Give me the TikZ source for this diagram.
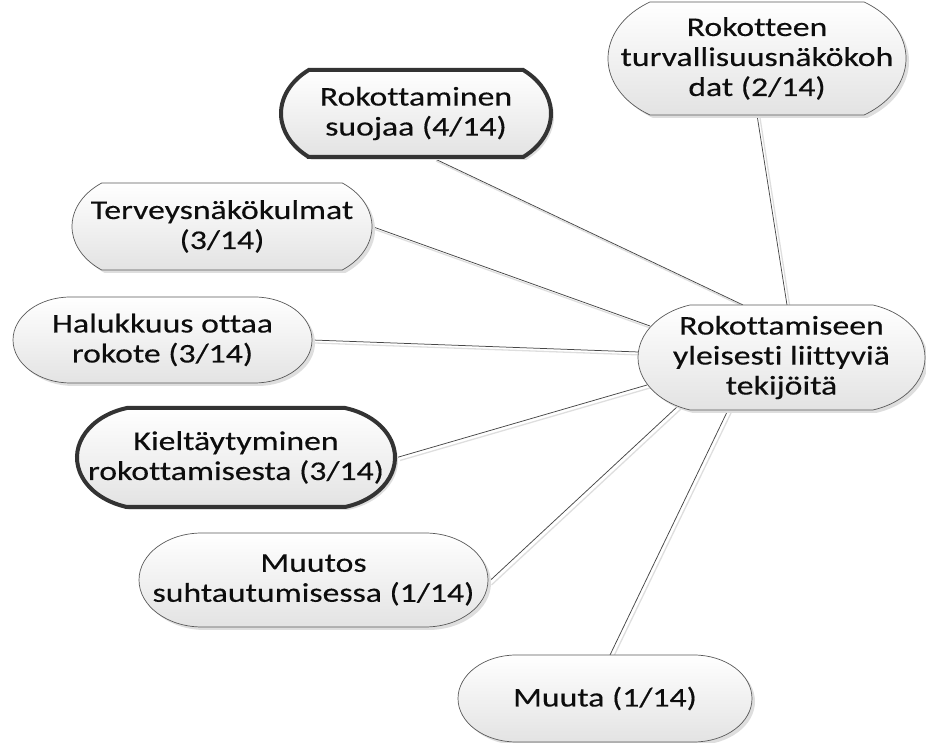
\documentclass[tikz,border=0pt]{standalone}
\usepackage{fontspec}
\setmainfont[FakeStretch=1.25, FakeBold=0.3, Ligatures=NoCommon, Contextuals=NoAlternate]{Carlito}
\usetikzlibrary{calc,shadows}
\pgfdeclarelayer{background}
\pgfsetlayers{background,main}

\tikzset{
  pillbase/.style={top color=white, bottom color=black!11,
    drop shadow={shadow xshift=3pt, shadow yshift=-3pt, fill=black!13, opacity=1}},
  pillthin/.style={pillbase, draw=black!65, line width=0.7pt},
  pillthick/.style={pillbase, draw=black!80, line width=4pt},
  pilltext/.style={inner sep=0pt, align=center, font=\fontsize{27}{30}\selectfont, text=black!95},
  conn/.style={draw=black!72, line width=0.75pt,
    preaction={draw=black!13, line width=1.3pt, transform canvas={shift={(3pt,-3pt)}}}},
}

% #1 name, #2 cx, #3 cy, #4 width, #5 height, #6 end-arc half angle, #7 style, #8 text
\newcommand\pillnode[8]{%
  \pgfmathsetmacro\pH{#5/2}\pgfmathsetmacro\pW{#4/2}%
  \pgfmathsetmacro\pR{\pH/sin(#6)}\pgfmathsetmacro\pRx{1.34*\pR}%
  \pgfmathsetmacro\pS{\pRx*(1-cos(#6))}%
  \path[#7] ({#2-\pW+\pS},{#3-\pH}) -- ({#2+\pW-\pS},{#3-\pH})
     arc[start angle={-#6}, end angle={#6}, x radius=\pRx pt, y radius=\pR pt]
     -- ({#2-\pW+\pS},{#3+\pH})
     arc[start angle={180-#6}, end angle={180+#6}, x radius=\pRx pt, y radius=\pR pt]
     -- cycle;
  \node[pilltext, minimum width=#4, minimum height=#5] (#1) at (#2,#3) {#8};
}

\begin{document}
\begin{tikzpicture}[x=1pt,y=1pt]
\useasboundingbox (0,0) rectangle (926,743);

\pillnode{suojaa}{416}{629.5}{270}{87}{51}{pillthick}{Rokottaminen\\suojaa (4/14)}
\pillnode{turv}{757}{684.5}{298}{113}{58}{pillthin}{Rokotteen\\turvallisuusnäkökoh\\dat (2/14)}
\pillnode{terv}{222}{516.5}{300}{87}{54}{pillthin}{Terveysnäkökulmat\\(3/14)}
\pillnode{halu}{162.5}{403}{299}{86}{90}{pillthin}{Halukkuus ottaa\\rokote (3/14)}
\pillnode{kielt}{236}{285.5}{318}{99}{74}{pillthick}{Kieltäytyminen\\rokottamisesta (3/14)}
\pillnode{muutos}{313.5}{163}{349}{94}{90}{pillthin}{Muutos\\suhtautumisessa (1/14)}
\pillnode{muuta}{605}{44.5}{294}{87}{90}{pillthin}{Muuta (1/14)}
\pillnode{hub}{781.5}{385.5}{287}{105}{73}{pillthin}{Rokottamiseen\\yleisesti liittyviä\\tekijöitä}

\begin{pgfonlayer}{background}
\draw[conn] ($(suojaa.center)+(17,-44.5)$) -- ($(hub.center)+(-38.5,52.5)$);
\draw[conn] ($(turv.center)+(0,-56.5)$) -- ($(hub.center)+(5.5,52.5)$);
\draw[conn] ($(terv.center)+(150,0)$) -- ($(hub.center)+(-131.5,31.5)$);
\draw[conn] ($(halu.center)+(149.5,0)$) -- ($(hub.center)+(-143,5.5)$);
\draw[conn] ($(kielt.center)+(161,0)$) -- ($(hub.center)+(-134.5,-27.5)$);
\draw[conn] ($(muutos.center)+(175,-2)$) -- ($(hub.center)+(-103.5,-48.5)$);
\draw[conn] ($(muuta.center)+(5,43.5)$) -- ($(hub.center)+(-53.5,-52.5)$);
\end{pgfonlayer}
\end{tikzpicture}
\end{document}
